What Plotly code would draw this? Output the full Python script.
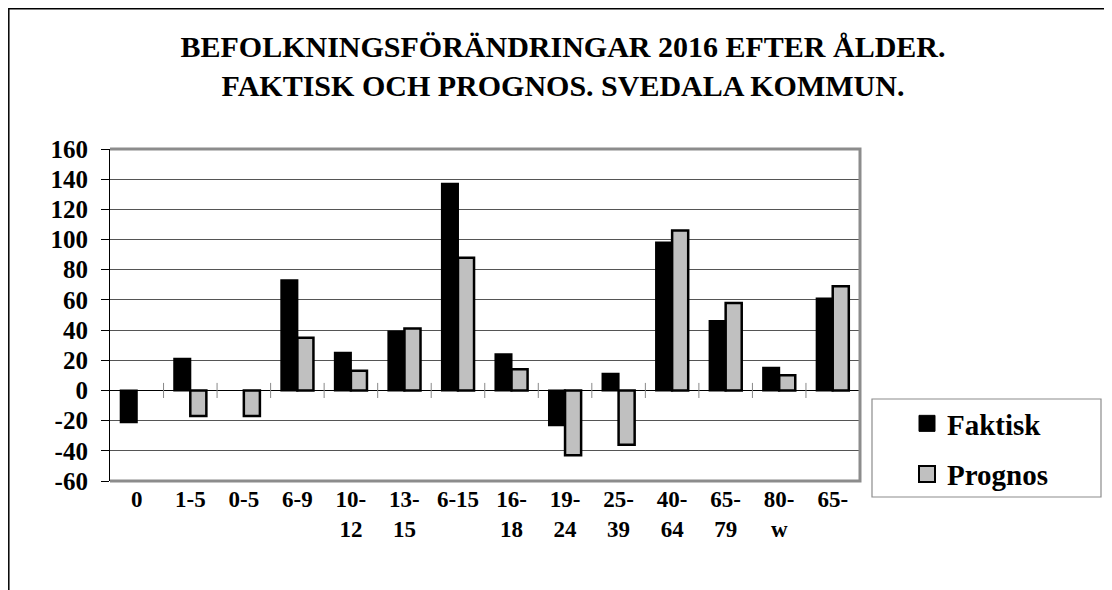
import plotly.graph_objects as go

categories = ["0", "1-5", "0-5", "6-9", "10-<br>12", "13-<br>15", "6-15", "16-<br>18",
              "19-<br>24", "25-<br>39", "40-<br>64", "65-<br>79", "80-<br>w", "65-"]
faktisk = [-21, 21, None, 73, 25, 39, 137, 24, -23, 11, 98, 46, 15, 61]
prognos = [None, -17, -17, 35, 13, 41, 88, 14, -43, -36, 106, 58, 10, 69]
y_ticks = list(range(-60, 161, 20))
y_tick_labels = [str(v) for v in y_ticks]

FONT = "Liberation Serif"

# page offset (body margin) and plot area in page pixels
OFF = 8
W, H = 1112 - OFF, 590 - OFF
L, R, T, B = 110 - OFF, 860 - OFF, 149 - OFF, 481 - OFF

def px(x):
    return (x - OFF - L) / (R - L)

def py(y):
    return (B - (y - OFF)) / (B - T)

fig = go.Figure()
fig.add_trace(go.Bar(x=categories, y=faktisk, name="Faktisk", showlegend=False,
                     marker=dict(color="#000000", line=dict(color="#000000", width=2))))
fig.add_trace(go.Bar(x=categories, y=prognos, name="Prognos", showlegend=False,
                     marker=dict(color="#C0C0C0", line=dict(color="#000000", width=2.5))))
# legend entries with larger square swatches
fig.add_trace(go.Scatter(x=[None], y=[None], mode="markers", name="Faktisk",
                         legendgroup="a",
                         marker=dict(symbol="square", size=17, color="#000000",
                                     line=dict(color="#000000", width=1))))
fig.add_trace(go.Scatter(x=[None], y=[None], mode="markers", name="Prognos",
                         legendgroup="b",
                         marker=dict(symbol="square", size=16, color="#C0C0C0",
                                     line=dict(color="#000000", width=2))))

shapes = []
# category separator ticks crossing the zero line
for i in range(1, len(categories) + 1):
    shapes.append(dict(type="line", xref="x", yref="y", x0=i - 0.5, x1=i - 0.5,
                       y0=-5, y1=5, line=dict(color="#888888", width=1), layer="above"))
# grey plot border on top, right and bottom
shapes.append(dict(type="path", xref="paper", yref="paper",
                   path="M 0,1 L 1,1 L 1,0 L 0,0",
                   line=dict(color="#8c8c8c", width=3), layer="above"))
# legend box
shapes.append(dict(type="rect", xref="paper", yref="paper",
                   x0=px(872), x1=px(1101), y0=py(497), y1=py(399),
                   line=dict(color="#8c8c8c", width=1.2), fillcolor="rgba(0,0,0,0)"))
# outer chart frame (top and left edge)
shapes.append(dict(type="path", xref="paper", yref="paper",
                   path=f"M {px(8.8)},{py(620)} L {px(8.8)},{py(8.8)} L {px(1130)},{py(8.8)}",
                   line=dict(color="#000000", width=1.5)))

fig.update_layout(
    width=W, height=H,
    margin=dict(l=L, r=W - R, t=T, b=H - B),
    paper_bgcolor="white", plot_bgcolor="white",
    title=dict(text="BEFOLKNINGSFÖRÄNDRINGAR 2016 EFTER ÅLDER.<br>FAKTISK OCH PROGNOS. SVEDALA KOMMUN.",
               x=(563 - OFF) / W, xref="container", xanchor="center",
               y=1 - 48.5 / H, yanchor="middle",
               font=dict(family=FONT, size=30, color="#000000", weight="bold")),
    barmode="group", bargap=0.4, bargroupgap=0,
    font=dict(family=FONT, color="#000000"),
    showlegend=True,
    legend=dict(x=px(907), xanchor="left", y=py(398), yanchor="top",
                bgcolor="rgba(0,0,0,0)", borderwidth=0,
                font=dict(family=FONT, size=29, color="#000000", weight="bold"),
                tracegroupgap=10, itemsizing="trace"),
    shapes=shapes,
)
fig.update_xaxes(type="category", showgrid=False, showline=False, zeroline=False,
                 ticks="", tickfont=dict(family=FONT, size=23, color="#000000", weight="bold"),
                 ticklabelstandoff=2)
fig.update_yaxes(range=[-60, 160], tickvals=y_ticks, ticktext=y_tick_labels,
                 showgrid=True, gridcolor="#555555",
                 gridwidth=1, zeroline=True, zerolinecolor="#000000", zerolinewidth=1.2,
                 showline=True, linecolor="#000000", linewidth=1.2,
                 ticks="outside", ticklen=8, tickcolor="#000000",
                 tickfont=dict(family=FONT, size=25, color="#000000", weight="bold"),
                 ticklabelstandoff=8)

fig.write_html("out.html")
